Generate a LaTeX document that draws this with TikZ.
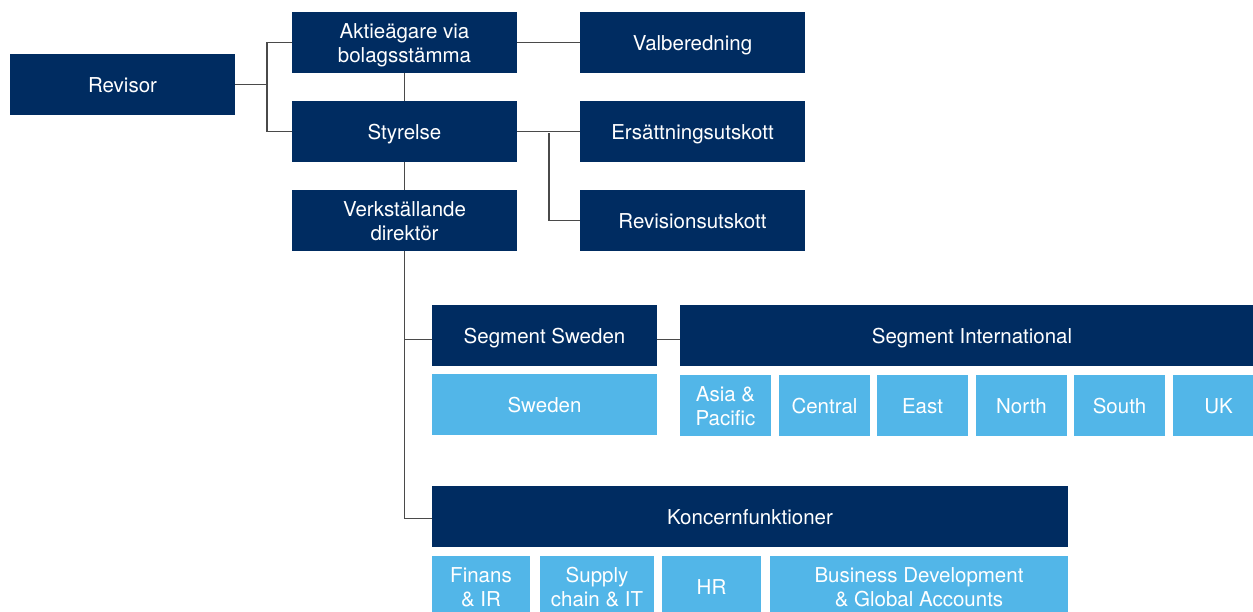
\documentclass[tikz,border=0pt]{standalone}
\usepackage{fontspec}
\setmainfont{TeX Gyre Heros}
\definecolor{navy}{HTML}{002C61}
\definecolor{lblue}{HTML}{52B6E8}
\definecolor{linec}{HTML}{4A4A4A}
\tikzset{
  base/.style={anchor=north west, inner sep=0pt, outer sep=0pt, text=white, align=center,
    font=\fontsize{20.5}{24}\selectfont, text height=15pt, text depth=0pt},
  two/.style={text height=39pt, text depth=0pt},
  dark/.style={base, fill=navy, minimum height=61pt},
  light/.style={base, fill=lblue, minimum height=61pt},
  conn/.style={draw=linec, line width=1.2pt}
}
\begin{document}
\begin{tikzpicture}[x=1pt,y=-1pt]
\useasboundingbox (0,0) rectangle (1253,611);
\clip (0,0) rectangle (1253,611);
% top level
\node[dark, minimum width=225pt] (rev) at (10,54) {Revisor};
\node[dark, two, minimum width=225pt] (akt) at (292,12) {Aktieägare via\\bolagsstämma};
\node[dark, minimum width=225pt] (sty) at (292,101) {Styrelse};
\node[dark, two, minimum width=225pt] (vd) at (292,190) {Verkställande\\direktör};
\node[dark, minimum width=225pt] (val) at (580,12) {Valberedning};
\node[dark, minimum width=225pt] (ers) at (580,101) {Ersättningsutskott};
\node[dark, minimum width=225pt] (rvu) at (580,190) {Revisionsutskott};
% segments
\node[dark, minimum width=225pt] (ss) at (432,305) {Segment Sweden};
\node[dark, minimum width=584pt] (si) at (680,305) {Segment International};
\node[light, minimum width=225pt] (swe) at (432,374) {Sweden};
\node[light, two, minimum width=91pt] (asia) at (680,375) {Asia \&\\Pacific};
\node[light, minimum width=91pt] (cen) at (779,375) {Central};
\node[light, minimum width=91pt] (east) at (877,375) {East};
\node[light, minimum width=91pt] (nor) at (976,375) {North};
\node[light, minimum width=91pt] (sou) at (1074,375) {South};
\node[light, minimum width=91pt] (uk) at (1173,375) {UK};
% group functions
\node[dark, minimum width=636pt] (kon) at (432,486) {Koncernfunktioner};
\node[light, two, minimum width=98pt] (fin) at (432,556) {Finans\\\& IR};
\node[light, two, minimum width=114pt] (sup) at (540,556) {Supply\\chain \& IT};
\node[light, minimum width=99pt] (hr) at (662,556) {HR};
\node[light, two, minimum width=298pt] (bus) at (770,556) {Business Development\\\& Global Accounts};
% connectors
\coordinate (j1) at (267,84.5);
\coordinate (j2) at (549,133);
\draw[conn] (rev.east) -- (j1);
\draw[conn] (akt.west) -| (j1) |- (sty.west);
\draw[conn] (akt.east) -- (val.west);
\draw[conn] (akt.south) -- (sty.north);
\draw[conn] (sty.south) -- (vd.north);
\draw[conn] (sty.east) -- (ers.west);
\draw[conn] (j2) |- (rvu.west);
\draw[conn] (vd.south) |- ([yshift=-2pt]kon.west);
\draw[conn] (vd.south |- ss.west) ++(0,4) -- ([yshift=-4pt]ss.west);
\draw[conn] ([yshift=-4pt]ss.east) -- ([yshift=-4pt]si.west);
\end{tikzpicture}
\end{document}
